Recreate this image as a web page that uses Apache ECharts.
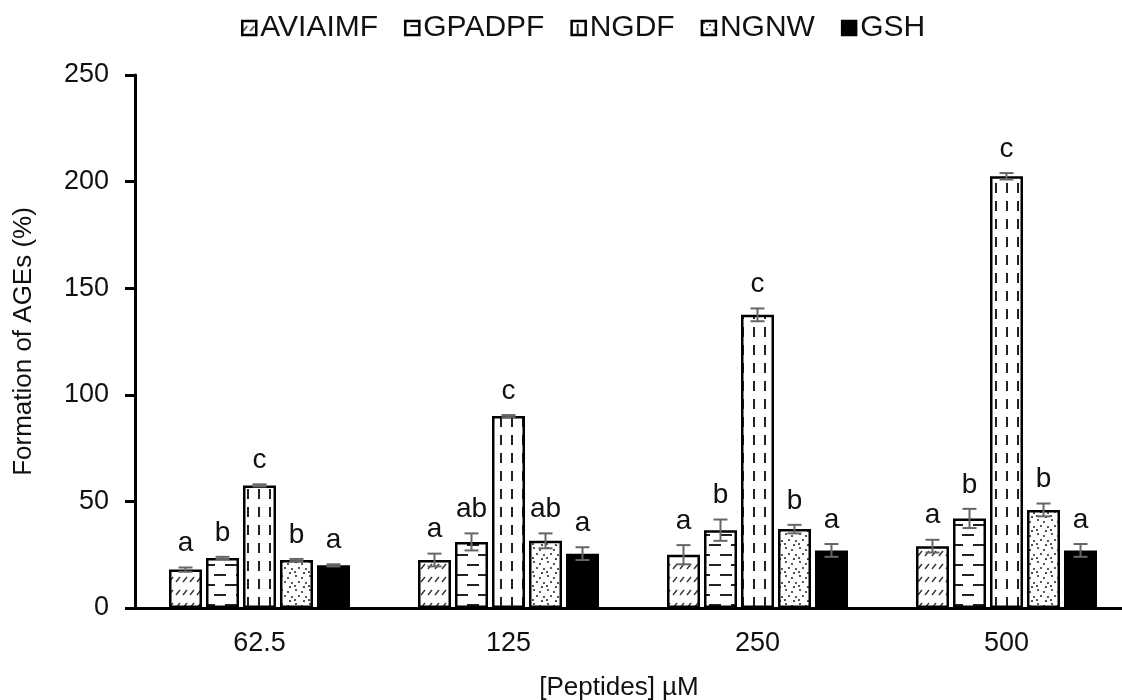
<!DOCTYPE html>
<html>
<head>
<meta charset="utf-8">
<script src="https://cdn.jsdelivr.net/npm/echarts@6/dist/echarts.min.js"></script>
<style>
  html, body {margin: 0; padding: 0; background: #fff;}
  #chart {width: 1122px; height: 700px;}
</style>
</head>
<body>
<div id="chart"></div>
<script>
const categories = ['62.5', '125', '250', '500']
const seriesNames = ['AVIAIMF', 'GPADPF', 'NGDF', 'NGNW', 'GSH']

// mean values (%)
const aviaimf = [18, 22.5, 25, 29]
const gpadpf = [23.5, 31, 36.5, 42]
const ngdf = [57.5, 90, 137.5, 202.5]
const ngnw = [22.5, 31.5, 37, 46]
const gsh = [20, 25.5, 27, 27]

// error (+/-)
const aviaimfErr = [1, 3, 4.5, 3]
const gpadpfErr = [0.5, 4, 5, 4.5]
const ngdfErr = [0.5, 0.5, 3, 1.5]
const ngnwErr = [0.5, 3.5, 2, 3]
const gshErr = [0.5, 3, 3, 3]

// significance letters
const aviaimfSig = ['a', 'a', 'a', 'a']
const gpadpfSig = ['b', 'ab', 'b', 'b']
const ngdfSig = ['c', 'c', 'c', 'c']
const ngnwSig = ['b', 'ab', 'b', 'b']
const gshSig = ['a', 'a', 'a', 'a']

const yTicks = [0, 50, 100, 150, 200, 250]

const values = [aviaimf, gpadpf, ngdf, ngnw, gsh]
const errors = [aviaimfErr, gpadpfErr, ngdfErr, ngnwErr, gshErr]
const letters = [aviaimfSig, gpadpfSig, ngdfSig, ngnwSig, gshSig]

const BAR_W = 33
const BAR_GAP = 4
const FONT = 'Liberation Sans, Arial, sans-serif'

const makeCanvas = (w, h) => {
  const c = document.createElement('canvas')
  c.width = w
  c.height = h
  const ctx = c.getContext('2d')
  ctx.fillStyle = '#fff'
  ctx.fillRect(0, 0, w, h)
  return [c, ctx]
}

const hatchPattern = () => {
  const [c, ctx] = makeCanvas(7, 13)
  ctx.strokeStyle = '#333'
  ctx.lineWidth = 1.4
  ctx.beginPath()
  ctx.moveTo(1, 10)
  ctx.lineTo(5, 5)
  ctx.stroke()
  return c
}

const hDashPattern = () => {
  const [c, ctx] = makeCanvas(22, 20)
  ctx.fillStyle = '#222'
  ctx.fillRect(5, 4, 12, 2)
  ctx.fillRect(0, 14, 6, 2)
  ctx.fillRect(16, 14, 6, 2)
  return c
}

const vDashPattern = () => {
  const [c, ctx] = makeCanvas(11, 18)
  ctx.fillStyle = '#222'
  ctx.fillRect(5, 3, 2, 10)
  return c
}

const dotPattern = () => {
  const [c, ctx] = makeCanvas(14, 14)
  ctx.fillStyle = '#333'
  const dots = [[2, 2], [8, 4], [12, 9], [5, 8], [10, 13], [1, 12]]
  dots.forEach(([x, y]) => {
    ctx.beginPath()
    ctx.arc(x, y, 1.1, 0, Math.PI * 2)
    ctx.fill()
  })
  return c
}

const fills = [
  {image: hatchPattern(), repeat: 'repeat'},
  {image: hDashPattern(), repeat: 'repeat'},
  {image: vDashPattern(), repeat: 'repeat'},
  {image: dotPattern(), repeat: 'repeat'},
  '#000',
]

const barSeries = seriesNames.map((name, i) => ({
  name,
  type: 'bar',
  barWidth: BAR_W,
  barGap: (BAR_GAP / BAR_W * 100) + '%',
  data: values[i],
  itemStyle: {
    color: fills[i],
    borderColor: '#000',
    borderWidth: 2.5,
  },
  z: 2,
}))

const errorSeries = seriesNames.map((name, i) => ({
  type: 'custom',
  name: name + '-err',
  z: 5,
  silent: true,
  data: values[i].map((v, k) => [k, v, errors[i][k]]),
  renderItem: (params, api) => {
    const k = api.value(0)
    const v = api.value(1)
    const e = api.value(2)
    const offset = (i - 2) * (BAR_W + BAR_GAP)
    const top = api.coord([k, v + e])
    const bot = api.coord([k, v - e])
    const x = top[0] + offset
    const cap = 7
    const style = {stroke: '#666', lineWidth: 2}
    return {
      type: 'group',
      children: [
        {type: 'line', shape: {x1: x, y1: top[1], x2: x, y2: bot[1]}, style},
        {type: 'line', shape: {x1: x - cap, y1: top[1], x2: x + cap, y2: top[1]}, style},
        {type: 'line', shape: {x1: x - cap, y1: bot[1], x2: x + cap, y2: bot[1]}, style},
        {
          type: 'text',
          style: {
            text: letters[i][params.dataIndex],
            x: x,
            y: top[1] - 10,
            align: 'center',
            verticalAlign: 'bottom',
            font: '28px ' + FONT,
            fill: '#111',
          },
        },
      ],
    }
  },
}))

const chart = echarts.init(document.getElementById('chart'))

chart.setOption({
  animation: false,
  backgroundColor: '#fff',
  textStyle: {fontFamily: FONT},
  legend: {
    data: seriesNames,
    left: 236,
    top: 8,
    icon: 'rect',
    itemWidth: 14,
    itemHeight: 14,
    itemGap: 26,
    textStyle: {fontSize: 30, color: '#111', padding: [0, 0, 0, -1]},
    itemStyle: {borderColor: '#000', borderWidth: 2.5},
  },
  grid: {left: 135, right: -9, top: 75, bottom: 92, containLabel: false, outerBoundsMode: 'none'},
  xAxis: {
    type: 'category',
    data: categories,
    name: '[Peptides] µM',
    nameLocation: 'middle',
    nameGap: 67,
    nameTextStyle: {fontSize: 26, color: '#111', padding: [0, 28, 0, 0]},
    axisLine: {lineStyle: {color: '#000', width: 3}},
    axisTick: {show: false},
    axisLabel: {fontSize: 27, color: '#111', margin: 22},
  },
  yAxis: {
    type: 'value',
    min: yTicks[0],
    max: yTicks[yTicks.length - 1],
    interval: yTicks[1] - yTicks[0],
    name: 'Formation of AGEs (%)',
    nameLocation: 'middle',
    nameGap: 98,
    nameTextStyle: {fontSize: 26, color: '#111'},
    axisLine: {show: true, lineStyle: {color: '#000', width: 3}},
    axisTick: {show: true, length: 10, lineStyle: {color: '#000', width: 3}},
    axisLabel: {fontSize: 27, color: '#111', margin: 26},
    splitLine: {show: false},
  },
  series: [...barSeries, ...errorSeries],
})
</script>
</body>
</html>
